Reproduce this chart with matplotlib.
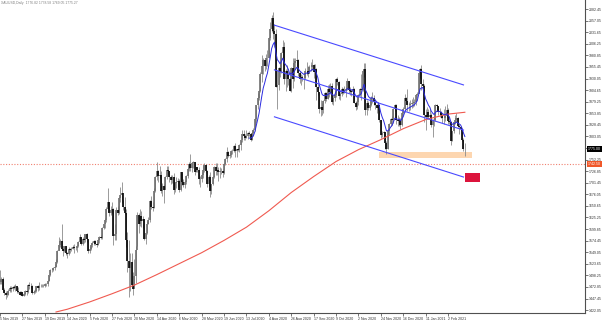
import numpy as np
import pandas as pd
import matplotlib.pyplot as plt
import matplotlib.transforms as mtransforms
from matplotlib.patches import Rectangle

plt.rcParams["font.family"] = ["Liberation Sans", "DejaVu Sans"]

# XAUUSD daily bars, 5 Nov 2019 .. 18 Feb 2021 (one value per trading day)
closes = [
    1484, 1491, 1467, 1459, 1456, 1456, 1463, 1471, 1468, 1472, 1471, 1474, 1464, 1462, 1455, 1461, 1454, 1458, 1464,
    1462, 1477, 1474, 1476, 1460, 1462, 1465, 1475, 1470, 1476, 1476, 1476, 1475, 1479, 1479, 1487, 1499, 1511, 1510, 1515, 1517,
    1528, 1552, 1566, 1574, 1556, 1552, 1562, 1548, 1545, 1557, 1553, 1557, 1560, 1558, 1558, 1563, 1571, 1582, 1567, 1577, 1576, 1589,
    1577, 1552, 1557, 1566, 1570, 1573, 1568, 1566, 1575, 1583, 1580, 1602, 1612, 1620, 1643, 1659, 1635, 1641, 1643, 1585,
    1590, 1641, 1636, 1669, 1674, 1679, 1649, 1636, 1576, 1529, 1514, 1527, 1478, 1469, 1498, 1553, 1631, 1612, 1629, 1617, 1622, 1577,
    1591, 1612, 1620, 1662, 1648, 1646, 1683, 1713, 1727, 1716, 1718, 1683, 1694, 1686, 1714, 1730, 1727, 1713, 1707, 1713, 1686,
    1700, 1702, 1705, 1685, 1725, 1702, 1697, 1702, 1716, 1731, 1743, 1733, 1745, 1747, 1725, 1735, 1729, 1710, 1709, 1718, 1730,
    1740, 1727, 1699, 1714, 1684, 1698, 1715, 1737, 1727, 1730, 1726, 1727, 1727, 1722, 1743, 1754, 1768, 1761, 1763, 1771, 1772, 1781,
    1770, 1775, 1774, 1784, 1795, 1809, 1803, 1799, 1803, 1810, 1808, 1796, 1810, 1817, 1842, 1871, 1888, 1902, 1941, 1958, 1970, 1957, 1975,
    1976, 2019, 2039, 2062, 2035, 2028, 1911, 1915, 1954, 1944, 1985, 2000, 1929, 1946, 1940, 1928, 1902, 1954, 1929, 1964, 1968,
    1970, 1943, 1930, 1934, 1932, 1931, 1946, 1947, 1941, 1956, 1955, 1960, 1944, 1950, 1912, 1900, 1863, 1868, 1861, 1881, 1898, 1886,
    1906, 1900, 1913, 1878, 1888, 1893, 1930, 1922, 1891, 1896, 1908, 1899, 1904, 1906, 1924, 1904, 1902, 1901, 1908, 1877, 1868, 1879,
    1894, 1908, 1904, 1947, 1951, 1862, 1877, 1866, 1873, 1888, 1887, 1879, 1872, 1866, 1871, 1838, 1806, 1811, 1812, 1788, 1776,
    1815, 1830, 1841, 1839, 1863, 1871, 1838, 1836, 1840, 1827, 1855, 1864, 1888, 1881, 1873, 1871, 1874, 1876, 1877, 1878, 1893, 1895,
    1943, 1950, 1918, 1913, 1849, 1845, 1856, 1846, 1851, 1828, 1840, 1840, 1871, 1870, 1856, 1856, 1850, 1844, 1843, 1848,
    1861, 1836, 1834, 1793, 1814, 1834, 1838, 1843, 1826, 1823, 1819, 1795, 1776, 1775,
]
highs = [
    1510, 1494, 1494, 1470, 1464, 1463, 1468, 1474, 1474, 1474, 1477, 1479, 1476, 1472, 1463, 1463, 1462, 1459, 1467,
    1467, 1479, 1484, 1481, 1477, 1466, 1468, 1476, 1477, 1484, 1480, 1479, 1479, 1481, 1481, 1488, 1500, 1512, 1514, 1516, 1524,
    1535, 1553, 1583, 1577, 1611, 1557, 1563, 1563, 1550, 1560, 1558, 1561, 1564, 1568, 1560, 1566, 1573, 1588, 1582, 1582, 1589, 1590,
    1592, 1577, 1562, 1569, 1574, 1575, 1576, 1572, 1578, 1585, 1586, 1604, 1612, 1625, 1649, 1689, 1660, 1651, 1660, 1645,
    1611, 1649, 1650, 1671, 1692, 1703, 1663, 1670, 1644, 1594, 1575, 1547, 1548, 1505, 1534, 1563, 1637, 1635, 1643, 1639, 1628, 1623,
    1592, 1617, 1627, 1664, 1672, 1660, 1690, 1716, 1747, 1729, 1738, 1727, 1701, 1698, 1716, 1739, 1738, 1728, 1718, 1718, 1722,
    1703, 1715, 1711, 1709, 1726, 1722, 1710, 1707, 1718, 1733, 1746, 1765, 1747, 1749, 1746, 1737, 1737, 1735, 1716, 1725, 1740,
    1745, 1742, 1729, 1718, 1726, 1699, 1717, 1739, 1744, 1744, 1735, 1736, 1733, 1731, 1745, 1756, 1779, 1772, 1768, 1773, 1775, 1785,
    1789, 1776, 1777, 1786, 1796, 1818, 1818, 1808, 1817, 1813, 1814, 1810, 1815, 1821, 1843, 1873, 1898, 1905, 1945, 1981, 1975, 1970, 1984,
    1992, 2021, 2055, 2069, 2075, 2050, 2039, 1949, 1956, 1966, 1988, 2015, 2011, 1951, 1959, 1949, 1933, 1955, 1976, 1975, 1974,
    1992, 1972, 1946, 1940, 1937, 1943, 1952, 1966, 1958, 1960, 1966, 1973, 1961, 1961, 1952, 1917, 1901, 1882, 1876, 1883, 1900, 1901,
    1916, 1917, 1920, 1920, 1894, 1897, 1932, 1933, 1925, 1900, 1912, 1909, 1913, 1912, 1931, 1925, 1911, 1908, 1913, 1910, 1880, 1887,
    1896, 1910, 1941, 1951, 1965, 1965, 1883, 1881, 1880, 1891, 1900, 1894, 1886, 1875, 1878, 1875, 1840, 1815, 1815, 1813, 1793,
    1820, 1832, 1844, 1848, 1865, 1875, 1875, 1849, 1845, 1844, 1857, 1867, 1896, 1890, 1907, 1879, 1882, 1884, 1889, 1884, 1897, 1901,
    1945, 1953, 1959, 1929, 1917, 1864, 1867, 1863, 1863, 1855, 1842, 1845, 1875, 1875, 1870, 1866, 1859, 1855, 1864, 1869,
    1875, 1865, 1845, 1836, 1815, 1835, 1849, 1855, 1846, 1831, 1826, 1822, 1800, 1788,
]
lows = [
    1480, 1480, 1464, 1456, 1446, 1450, 1455, 1461, 1462, 1465, 1468, 1465, 1460, 1460, 1455, 1455, 1454, 1452, 1456,
    1456, 1460, 1469, 1471, 1458, 1457, 1460, 1461, 1465, 1466, 1473, 1472, 1472, 1473, 1476, 1476, 1487, 1497, 1506, 1507, 1511,
    1516, 1525, 1553, 1560, 1553, 1540, 1550, 1544, 1536, 1543, 1547, 1551, 1556, 1547, 1553, 1550, 1560, 1570, 1564, 1565, 1570, 1572,
    1572, 1548, 1547, 1553, 1560, 1566, 1564, 1561, 1564, 1570, 1578, 1578, 1600, 1602, 1616, 1637, 1628, 1631, 1636, 1564,
    1575, 1575, 1631, 1634, 1659, 1657, 1642, 1633, 1560, 1505, 1451, 1464, 1477, 1455, 1470, 1482, 1562, 1592, 1606, 1604, 1602, 1575,
    1567, 1590, 1610, 1615, 1643, 1640, 1647, 1682, 1707, 1703, 1712, 1680, 1672, 1658, 1688, 1709, 1719, 1702, 1699, 1700, 1677,
    1681, 1690, 1693, 1681, 1683, 1697, 1692, 1691, 1699, 1712, 1728, 1727, 1726, 1733, 1719, 1725, 1724, 1698, 1693, 1702, 1711,
    1725, 1722, 1693, 1694, 1670, 1677, 1696, 1712, 1718, 1719, 1705, 1712, 1720, 1715, 1720, 1741, 1748, 1758, 1755, 1758, 1765, 1768,
    1757, 1759, 1770, 1768, 1774, 1791, 1796, 1795, 1799, 1798, 1805, 1793, 1795, 1803, 1814, 1833, 1863, 1882, 1900, 1922, 1939, 1946, 1951,
    1958, 1975, 2015, 2032, 2016, 2000, 1911, 1863, 1905, 1934, 1942, 1976, 1919, 1902, 1912, 1916, 1902, 1901, 1910, 1925, 1950,
    1958, 1935, 1920, 1916, 1925, 1906, 1930, 1937, 1934, 1944, 1946, 1949, 1931, 1942, 1883, 1894, 1855, 1848, 1851, 1855, 1876, 1881,
    1884, 1889, 1895, 1875, 1873, 1881, 1890, 1915, 1885, 1883, 1891, 1896, 1898, 1890, 1904, 1898, 1894, 1892, 1897, 1876, 1860, 1864,
    1872, 1892, 1882, 1903, 1933, 1849, 1850, 1861, 1861, 1870, 1876, 1871, 1864, 1855, 1860, 1835, 1800, 1801, 1803, 1775, 1764,
    1775, 1807, 1826, 1827, 1832, 1859, 1830, 1825, 1826, 1820, 1826, 1850, 1857, 1875, 1858, 1859, 1861, 1866, 1867, 1869, 1873, 1887,
    1898, 1932, 1904, 1907, 1835, 1817, 1842, 1841, 1838, 1824, 1802, 1826, 1836, 1860, 1850, 1846, 1843, 1833, 1830, 1836,
    1845, 1831, 1831, 1785, 1792, 1811, 1830, 1835, 1823, 1808, 1817, 1794, 1771, 1760,
]

date_labels = ["5 Nov 2019", "27 Nov 2019", "19 Dec 2019", "14 Jan 2020", "5 Feb 2020", "27 Feb 2020",
               "20 Mar 2020", "14 Apr 2020", "6 May 2020", "28 May 2020", "19 Jun 2020", "13 Jul 2020",
               "4 Aug 2020", "26 Aug 2020", "17 Sep 2020", "9 Oct 2020", "2 Nov 2020", "24 Nov 2020",
               "16 Dec 2020", "11 Jan 2021", "2 Feb 2021"]
label_step = 16

# 200 SMA (bar index, price)
sma_idx = [40, 48, 64, 80, 96, 112, 128, 144, 160, 176, 192, 208, 224, 240, 256, 272, 288, 304, 320, 332]
sma_val = [1418, 1424, 1440, 1458, 1477, 1500, 1524, 1548, 1575, 1604, 1640, 1680, 1715, 1748, 1774, 1796, 1820, 1840, 1852, 1856]

# descending channel (bar index, price)
chan_idx = [196, 331]
chan_upper = [2047, 1916]
chan_mid = [1949, 1817]
chan_low = [1846, 1714]

support_zone = [270.4, 337.0, 1755.6, 1768.8]   # x0, x1, y0, y1
target_zone = [332.0, 342.7, 1703.0, 1722.8]
level_price = 1742.5

c = np.array(closes, float)
h = np.array(highs, float)
l = np.array(lows, float)
o = np.r_[c[0], c[:-1]]
x = np.arange(len(c))

fig = plt.figure(figsize=(6.02, 3.20), dpi=100)
ax = fig.add_axes([0, 7 / 320, 585 / 602, 313 / 320])
ax.set_xlim(3.24, 417.8)
ax.set_ylim(1415.8, 2102.2)

# candles
ax.vlines(x, l, h, color="#8a8a8a", lw=0.6, zorder=2)
up = c >= o
ax.vlines(x[up], o[up], c[up], color="#6e6e6e", lw=1.2, zorder=3)
ax.vlines(x[~up], o[~up], c[~up], color="#000000", lw=1.2, zorder=3)

# moving averages
ax.plot(sma_idx, sma_val, color="#f05a50", lw=0.8, zorder=4)
ema = pd.Series(c).ewm(span=8, adjust=False).mean().to_numpy()
ax.plot(x[178:], ema[178:], color="#2a2ae0", lw=0.7, zorder=4)

# channel
for ys in (chan_upper, chan_mid, chan_low):
    ax.plot(chan_idx, ys, color="#4a4aff", lw=0.8, zorder=4)

ax.add_patch(Rectangle((support_zone[0], support_zone[2]), support_zone[1] - support_zone[0],
                       support_zone[3] - support_zone[2], fc="#fdd6b0", ec="none", zorder=1))
ax.add_patch(Rectangle((target_zone[0], target_zone[2]), target_zone[1] - target_zone[0],
                       target_zone[3] - target_zone[2], fc="#dc143c", ec="none", zorder=5))
ax.axhline(level_price, color="#f08070", lw=0.8, ls=(0, (1, 1.5)), zorder=1)

# axes look
for s in ("left", "top"):
    ax.spines[s].set_visible(False)
ax.spines["right"].set_color("#505050")
ax.spines["bottom"].set_color("#505050")
ax.spines["right"].set_linewidth(0.8)
ax.spines["bottom"].set_linewidth(0.8)

yt = 1422.05 + 25.40 * np.arange(27)
ax.yaxis.tick_right()
ax.set_yticks(yt)
ax.set_yticklabels([f"{v:.2f}" for v in yt])
xt = np.arange(len(date_labels)) * label_step
ax.set_xticks(xt)
ax.set_xticklabels(date_labels)
plt.setp(ax.get_xticklabels(), ha="left")
ax.tick_params(axis="both", labelsize=2.5, length=2, width=0.5, pad=0.8, colors="#404040", labelcolor="#303030")

tr = mtransforms.blended_transform_factory(ax.transAxes, ax.transData)
ax.text(1.005, c[-1], f"{c[-1]:.2f}", transform=tr, fontsize=2.5, color="white", va="center", ha="left",
        bbox=dict(fc="black", ec="none", pad=0.7), zorder=6, clip_on=False)
ax.text(1.005, level_price, f"{level_price:.2f}", transform=tr, fontsize=2.5, color="white", va="center", ha="left",
        bbox=dict(fc="#f0582a", ec="none", pad=0.7), zorder=6, clip_on=False)

ax.text(0.002, 0.998, "XAUUSD,Daily  1776.82 1778.58 1769.05 1775.27", transform=ax.transAxes,
        fontsize=2.4, color="#808080", va="top", ha="left")

fig.savefig("out.png", dpi=100, facecolor="white")
